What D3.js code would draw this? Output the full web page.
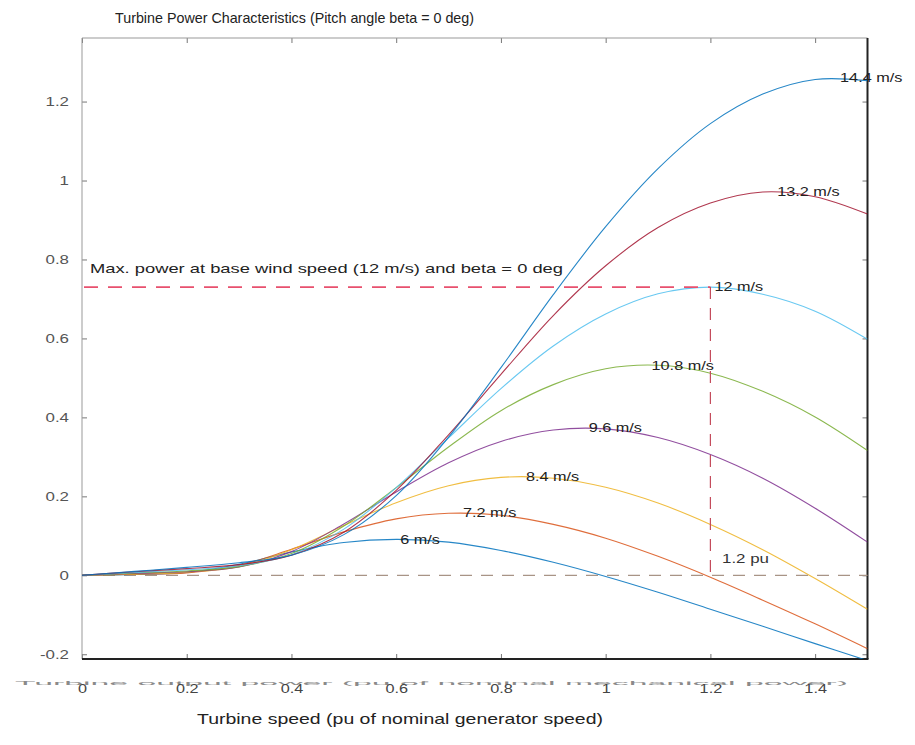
<!DOCTYPE html>
<html>
<head>
<meta charset="utf-8">
<script src="https://cdn.jsdelivr.net/npm/d3@7"></script>
<style>
body { margin: 0; background: #fff; }
svg { display: block; font-family: "Liberation Sans", Arial, sans-serif; }
</style>
</head>
<body>
<div id="chart"></div>
<script>
"use strict"

let svgWidth = 915
let svgHeight = 745
let plotLeft = 82, plotRight = 867.5, plotTop = 38, plotBottom = 659

/* turbine speed samples (pu) */
let speed = [0, 0.1, 0.2, 0.3, 0.4, 0.5, 0.6, 0.7, 0.8, 0.9, 1.0, 1.1, 1.2, 1.3, 1.4, 1.5]

/* output power (pu) per wind speed */
let p6   = [0, 0.002, 0.007, 0.028, 0.059, 0.083, 0.091, 0.084, 0.063, 0.033, -0.003, -0.043, -0.086, -0.129, -0.173, -0.216]
let p72  = [0, 0.003, 0.006, 0.025, 0.066, 0.110, 0.143, 0.157, 0.152, 0.129, 0.094, 0.048, -0.005, -0.063, -0.123, -0.186]
let p84  = [0, 0.003, 0.008, 0.022, 0.065, 0.126, 0.184, 0.227, 0.248, 0.246, 0.223, 0.183, 0.129, 0.065, -0.008, -0.086]
let p96  = [0, 0.005, 0.009, 0.021, 0.060, 0.130, 0.211, 0.285, 0.339, 0.368, 0.371, 0.349, 0.306, 0.246, 0.170, 0.084]
let p108 = [0, 0.006, 0.011, 0.022, 0.055, 0.125, 0.222, 0.325, 0.417, 0.483, 0.523, 0.532, 0.512, 0.466, 0.401, 0.316]
let p12  = [0, 0.007, 0.014, 0.024, 0.052, 0.117, 0.222, 0.348, 0.473, 0.581, 0.662, 0.713, 0.730, 0.712, 0.669, 0.598]
let p132 = [0, 0.009, 0.017, 0.027, 0.051, 0.109, 0.215, 0.356, 0.509, 0.658, 0.784, 0.881, 0.943, 0.971, 0.959, 0.915]
let p144 = [0, 0.010, 0.020, 0.032, 0.051, 0.103, 0.202, 0.350, 0.526, 0.711, 0.883, 1.030, 1.144, 1.219, 1.256, 1.253]

let windLabels = ["6 m/s", "7.2 m/s", "8.4 m/s", "9.6 m/s", "10.8 m/s", "12 m/s", "13.2 m/s", "14.4 m/s"]
let peakSpeed = [0.6, 0.72, 0.84, 0.96, 1.08, 1.2, 1.32, 1.44]
let peakPower = [0.091, 0.158, 0.25, 0.374, 0.532, 0.73, 0.972, 1.261]

let xTicks = [0, 0.2, 0.4, 0.6, 0.8, 1, 1.2, 1.4]
let yTicks = [-0.2, 0, 0.2, 0.4, 0.6, 0.8, 1, 1.2]

let baseSpeed = 1.2
let basePower = 0.73

let series = [p6, p72, p84, p96, p108, p12, p132, p144]
let colors = ["#0072bd", "#d95319", "#edb120", "#7e2f8e", "#77ac30", "#4dbeee", "#a2142f", "#0072bd"]

/* SVG canvas */
let svg = d3.select("#chart")
    .append("svg")
    .attr("width", svgWidth)
    .attr("height", svgHeight)

svg.append("rect")
   .attr("width", svgWidth)
   .attr("height", svgHeight)
   .attr("fill", "#fff")

/* Scales */
let xScale = d3.scaleLinear()
    .domain([0, 1.5])
    .range([plotLeft, plotRight])

let yScale = d3.scaleLinear()
    .domain([-0.212, 1.361])
    .range([plotBottom, plotTop])

/* squashed y label that sits under the x tick labels */
svg.append("text")
   .attr("transform", "translate(15," + 683 + ") scale(1,0.4)")
   .attr("dominant-baseline", "central")
   .attr("font-size", 13)
   .attr("fill", "#8a8a8a")
   .attr("textLength", 833)
   .attr("lengthAdjust", "spacingAndGlyphs")
   .text("Turbine output power (pu of nominal mechanical power)")

/* axes: ticks point inwards */
let fmt = d => String(d)

let gx = svg.append("g")
   .attr("transform", "translate(0," + plotBottom + ")")
   .call(d3.axisBottom(xScale).tickValues(xTicks).tickSize(-5).tickFormat(fmt))
gx.attr("font-family", null)
gx.select(".domain").remove()
gx.selectAll("line").attr("stroke", "#777")
gx.selectAll("text")
  .attr("y", 29)
  .attr("dy", "0.35em")
  .attr("font-size", 13)
  .attr("fill", "#444")
  .attr("transform", "scale(1.25,1)")

let gy = svg.append("g")
   .attr("transform", "translate(" + plotLeft + ",0)")
   .call(d3.axisLeft(yScale).tickValues(yTicks).tickSize(-5).tickFormat(fmt))
gy.attr("font-family", null)
gy.select(".domain").remove()
gy.selectAll("line").attr("stroke", "#777")
gy.selectAll("text")
  .attr("x", 0)
  .attr("font-size", 13.5)
  .attr("fill", "#555")
  .attr("transform", "translate(-13,0) scale(1.25,1)")

let gTop = svg.append("g")
   .attr("transform", "translate(0," + plotTop + ")")
   .call(d3.axisTop(xScale).tickValues(xTicks).tickSize(-5).tickFormat(""))
gTop.select(".domain").remove()
gTop.selectAll("line").attr("stroke", "#777")

let gRight = svg.append("g")
   .attr("transform", "translate(" + plotRight + ",0)")
   .call(d3.axisRight(yScale).tickValues(yTicks).tickSize(-5).tickFormat(""))
gRight.select(".domain").remove()
gRight.selectAll("line").attr("stroke", "#777")

/* box */
svg.append("line")
   .attr("x1", plotLeft).attr("x2", plotRight)
   .attr("y1", plotTop).attr("y2", plotTop)
   .attr("stroke", "#999")
svg.append("line")
   .attr("x1", plotLeft).attr("x2", plotLeft)
   .attr("y1", plotTop).attr("y2", plotBottom)
   .attr("stroke", "#999")
svg.append("line")
   .attr("x1", plotLeft).attr("x2", plotRight + 1)
   .attr("y1", plotBottom).attr("y2", plotBottom)
   .attr("stroke", "#222")
   .attr("stroke-width", 2)
svg.append("line")
   .attr("x1", plotRight).attr("x2", plotRight)
   .attr("y1", plotTop).attr("y2", plotBottom)
   .attr("stroke", "#222")
   .attr("stroke-width", 2)

/* zero line */
svg.append("line")
   .attr("x1", xScale(0)).attr("x2", xScale(1.5))
   .attr("y1", yScale(0)).attr("y2", yScale(0))
   .attr("stroke", "#a89486")
   .attr("stroke-width", 1.2)
   .attr("stroke-dasharray", "12,9")

/* clip curves to the plot */
svg.append("clipPath")
   .attr("id", "plotClip")
   .append("rect")
   .attr("x", plotLeft)
   .attr("y", plotTop)
   .attr("width", plotRight - plotLeft)
   .attr("height", plotBottom - plotTop)

let line = d3.line()
    .x((d, i) => xScale(speed[i]))
    .y(d => yScale(d))
    .curve(d3.curveCatmullRom.alpha(0.5))

svg.append("g")
   .attr("clip-path", "url(#plotClip)")
   .selectAll(".powerCurve")
   .data(series)
   .join("path")
   .attr("class", "powerCurve")
   .attr("d", d => line(d))
   .attr("fill", "none")
   .attr("stroke", (d, i) => colors[i])
   .attr("stroke-width", 1.1)
   .attr("opacity", 0.85)

/* max power at base wind speed */
svg.append("line")
   .attr("x1", xScale(0) + 2).attr("x2", xScale(baseSpeed))
   .attr("y1", yScale(basePower)).attr("y2", yScale(basePower))
   .attr("stroke", "#e8506e")
   .attr("stroke-width", 1.6)
   .attr("stroke-dasharray", "14,10")

svg.append("line")
   .attr("x1", xScale(baseSpeed)).attr("x2", xScale(baseSpeed))
   .attr("y1", yScale(basePower)).attr("y2", yScale(0))
   .attr("stroke", "#c44c5c")
   .attr("stroke-width", 1.2)
   .attr("stroke-dasharray", "12,9")

/* curve labels at each peak */
svg.selectAll(".windLabel")
   .data(windLabels)
   .join("text")
   .attr("class", "windLabel")
   .attr("transform", (d, i) => "translate(" + (xScale(peakSpeed[i]) + 4) + "," + yScale(peakPower[i]) + ") scale(1.3,1)")
   .attr("dominant-baseline", "central")
   .attr("font-size", 12.5)
   .attr("fill", "#222")
   .text(d => d)

svg.append("text")
   .attr("transform", "translate(722,558) scale(1.3,1)")
   .attr("dominant-baseline", "central")
   .attr("font-size", 13)
   .attr("fill", "#333")
   .text("1.2 pu")

svg.append("text")
   .attr("x", 90)
   .attr("y", 268)
   .attr("dominant-baseline", "central")
   .attr("font-size", 13)
   .attr("fill", "#222")
   .attr("textLength", 473)
   .attr("lengthAdjust", "spacingAndGlyphs")
   .text("Max. power at base wind speed (12 m/s) and beta = 0 deg")

/* title */
svg.append("text")
   .attr("x", 115)
   .attr("y", 18)
   .attr("dominant-baseline", "central")
   .attr("font-size", 14.5)
   .attr("fill", "#222")
   .attr("textLength", 359)
   .attr("lengthAdjust", "spacingAndGlyphs")
   .text("Turbine Power Characteristics (Pitch angle beta = 0 deg)")

/* x label */
svg.append("text")
   .attr("x", 197)
   .attr("y", 718)
   .attr("dominant-baseline", "central")
   .attr("font-size", 15)
   .attr("fill", "#222")
   .attr("textLength", 406)
   .attr("lengthAdjust", "spacingAndGlyphs")
   .text("Turbine speed (pu of nominal generator speed)")
</script>
</body>
</html>
